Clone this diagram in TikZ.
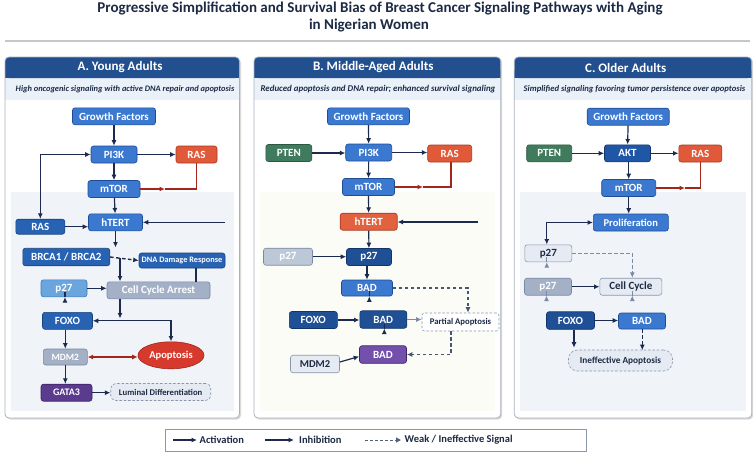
\documentclass[tikz,border=0pt]{standalone}
\usepackage{fontspec}
\setmainfont{Carlito}
\usetikzlibrary{arrows.meta,shapes.geometric,calc}
\definecolor{navy}{HTML}{1B2A4E}
\definecolor{hdr}{HTML}{22508F}
\definecolor{subband}{HTML}{EAF1F9}
\definecolor{framec}{HTML}{A9B2BF}
\definecolor{nblue}{HTML}{3B78CF}
\definecolor{nblueD}{HTML}{1F4D95}
\definecolor{ndark}{HTML}{1F4F94}
\definecolor{ndarkD}{HTML}{13356B}
\definecolor{nakt}{HTML}{1F56A6}
\definecolor{nmid}{HTML}{2762B3}
\definecolor{nmidD}{HTML}{17437F}
\definecolor{nred}{HTML}{E05A3A}
\definecolor{nredD}{HTML}{A8381F}
\definecolor{norange}{HTML}{E2613F}
\definecolor{ngreen}{HTML}{3F7B5C}
\definecolor{ngreenD}{HTML}{2A5840}
\definecolor{nlight}{HTML}{6AA5DD}
\definecolor{nlightD}{HTML}{3E7BBF}
\definecolor{ngray}{HTML}{A4B0C6}
\definecolor{ngrayD}{HTML}{7B88A2}
\definecolor{nlgray}{HTML}{BCC7D8}
\definecolor{npale}{HTML}{E6EBF3}
\definecolor{npaleD}{HTML}{8A96AB}
\definecolor{npurple}{HTML}{5B3B8E}
\definecolor{npurpleD}{HTML}{3D2566}
\definecolor{npurpleB}{HTML}{7350AB}
\definecolor{apored}{HTML}{D63A2C}
\definecolor{aporedD}{HTML}{A0241A}
\definecolor{redline}{HTML}{A3261D}
\definecolor{grayline}{HTML}{7C8AA5}
\definecolor{darktext}{HTML}{1C2A44}
\definecolor{intA}{HTML}{F0F4F9}
\definecolor{intB}{HTML}{FCFCF7}
\newcommand{\mypanel}[3]{%
  \fill[black!15, rounded corners=4pt] (#1+1.5,58.5) rectangle (#2+1.5,419.5);
  \fill[white, rounded corners=4pt] (#1,57) rectangle (#2,418);
  \fill[#3] (#1+6,192) rectangle (#2-6,411);
  \fill[subband] (#1,78) rectangle (#2,100);
  \fill[hdr, rounded corners=4pt] (#1,57) rectangle (#2,78);
  \fill[hdr] (#1,70) rectangle (#2,78);
  \draw[framec, line width=0.8pt, rounded corners=4pt] (#1,57) rectangle (#2,418);
}
\begin{document}
\begin{tikzpicture}[x=1pt,y=-1pt,
  >={Latex[length=5.5pt,width=5pt]},
  nd/.style={draw, rounded corners=2.5pt, line width=0.6pt, inner sep=0pt,
    minimum height=17pt, text=white, font=\bfseries\fontsize{11}{12}\selectfont},
  blueN/.style={nd, fill=nblue, draw=nblueD},
  darkN/.style={nd, fill=ndark, draw=ndarkD},
  midN/.style={nd, fill=nmid, draw=nmidD},
  redN/.style={nd, fill=nred, draw=nredD},
  orangeN/.style={nd, fill=norange, draw=nredD},
  greenN/.style={nd, fill=ngreen, draw=ngreenD},
  lightN/.style={nd, fill=nlight, draw=nlightD},
  grayN/.style={nd, fill=ngray, draw=ngrayD},
  lgrayN/.style={nd, fill=nlgray, draw=ngrayD},
  paleN/.style={nd, fill=npale, draw=npaleD, text=darktext},
  purpleN/.style={nd, fill=npurple, draw=npurpleD},
  purpleBN/.style={nd, fill=npurpleB, draw=npurpleD},
  dashN/.style={nd, dash pattern=on 2.5pt off 1.8pt, fill=npale, draw=npaleD, text=darktext},
  arr/.style={draw=navy, line width=1.2pt, ->},
  rarr/.style={draw=redline, line width=1.2pt, ->},
  garr/.style={draw=grayline, line width=1.2pt, ->},
  dsh/.style={dash pattern=on 3.5pt off 2.5pt},
  hdrtxt/.style={text=white, font=\bfseries\fontsize{13}{14}\selectfont},
  subtxt/.style={text=darktext, font=\bfseries\itshape\fontsize{8.7}{10}\selectfont},
  legtxt/.style={text=darktext, font=\bfseries\fontsize{10.5}{12}\selectfont, anchor=west, inner sep=0pt}
]
\useasboundingbox (0,0) rectangle (756,456);
\fill[white] (0,0) rectangle (756,456);

% title
\node[text=darktext, font=\bfseries\fontsize{15}{17}\selectfont, anchor=base] (t1) at (380,12.5) {Progressive Simplification and Survival Bias of Breast Cancer Signaling Pathways with Aging};
\node[text=darktext, font=\bfseries\fontsize{15}{17}\selectfont, anchor=base] (t2) at (369,29) {in Nigerian Women};
\fill[black!22] (5,40) rectangle (750,41.5);

% panels
\mypanel{5}{239.5}{intA}
\mypanel{254}{500.7}{intB}
\mypanel{514.3}{751.7}{intA}

\node[hdrtxt] (hA) at (120,67.5) {A. Young Adults};
\node[hdrtxt] (hB) at (373.3,67.5) {B. Middle-Aged Adults};
\node[hdrtxt] (hC) at (625.7,67.5) {C. Older Adults};
\node[subtxt, font=\bfseries\itshape\fontsize{8.4}{10}\selectfont] (sA) at (125,89) {High oncogenic signaling with active DNA repair and apoptosis};
\node[subtxt, font=\bfseries\itshape\fontsize{8.9}{10}\selectfont] (sB) at (378,89) {Reduced apoptosis and DNA repair; enhanced survival signaling};
\node[subtxt, font=\bfseries\itshape\fontsize{8.6}{10}\selectfont] (sC) at (634.5,89) {Simplified signaling favoring tumor persistence over apoptosis};

% ---------- Panel A ----------
\node[blueN, minimum width=83pt] (gfA) at (114,116.3) {Growth Factors};
\node[blueN, minimum width=46pt] (pi3kA) at (114,154.5) {PI3K};
\node[redN, minimum width=41pt] (rasA) at (196.5,154.5) {RAS};
\node[blueN, minimum width=52pt] (mtorA) at (114,189) {mTOR};
\node[midN, minimum width=49pt, minimum height=15pt] (rasL) at (40.3,226.7) {RAS};
\node[blueN, minimum width=54pt] (htertA) at (115.5,222.3) {hTERT};
\node[midN, minimum width=87pt, minimum height=17.5pt] (brca) at (66.3,257) {BRCA1 / BRCA2};
\node[midN, minimum width=86pt, minimum height=15pt, font=\bfseries\fontsize{8.3}{9}\selectfont] (ddr) at (182,260.5) {DNA Damage Response};
\node[lightN, minimum width=46pt] (p27A) at (64,288.3) {p27};
\node[grayN, minimum width=103pt] (cca) at (158.5,290.3) {Cell Cycle Arrest};
\node[midN, minimum width=50pt] (foxoA) at (67.5,320.8) {FOXO};
\node[ellipse, draw=aporedD, fill=apored, line width=0.6pt, inner sep=0pt, minimum width=66pt, minimum height=27pt, text=white, font=\bfseries\fontsize{10.5}{12}\selectfont] (apop) at (171,355.3) {Apoptosis};
\node[grayN, minimum width=44pt, minimum height=16pt, font=\bfseries\fontsize{9.5}{11}\selectfont] (mdm2A) at (65.3,357) {MDM2};
\node[purpleN, minimum width=51pt, font=\bfseries\fontsize{10}{11}\selectfont] (gata3) at (66.5,392.7) {GATA3};
\node[dashN, rounded corners=5pt, minimum width=100pt, font=\bfseries\fontsize{8.7}{10}\selectfont] (lum) at (160.7,392) {Luminal Differentiation};

\coordinate (redA) at (165,189);
\coordinate (inA) at (225,222.3);
\coordinate (hA2) at (115.5,247.5);
\coordinate (brA) at (120,258);
\coordinate (ddA) at (196,268);
\coordinate (ccA) at (120,318.5);

\draw[arr] (gfA) -- (pi3kA);
\draw[arr] (pi3kA) -- (rasA);
\draw[arr] (pi3kA) -- (mtorA);
\draw[rarr] (mtorA.east) -- (redA);
\draw[draw=redline, line width=1.2pt] (redA) -| (rasA.south);
\draw[arr, <->] (rasL.north) |- (pi3kA.west);
\draw[arr] (rasL.east) -- (rasL.east -| htertA.west);
\draw[arr] (mtorA) -- (htertA);
\draw[arr] (inA) -- (htertA.east);
\draw[arr] (htertA.south) -- (hA2);
\draw[arr, dsh, line width=1.4pt] (brca.east) -- (ddr.west);
\draw[arr] (brA) -- (brA |- cca.north);
\draw[draw=navy, line width=1.2pt] (ddA) -- (ddA |- cca.north);
\draw[arr] (p27A.east) -- (p27A.east -| cca.west);
\draw[arr] ($(p27A.south)+(1,0)$) -- ($(p27A.south)+(1,0)$ |- foxoA.north);
\draw[arr] (cca.south -| ccA) -- (ccA);
\draw[arr, <->] (foxoA.east) -| (apop.north);
\draw[arr] (foxoA.south -| mdm2A) -- (mdm2A.north);
\draw[rarr, <->] (mdm2A.east) -- (mdm2A.east -| apop.west);
\draw[arr] (mdm2A) -- (mdm2A |- gata3.north);
\draw[arr] (gata3.east) -- (gata3.east -| lum.west);

% ---------- Panel B ----------
\node[blueN, minimum width=82pt] (gfB) at (368.5,116.3) {Growth Factors};
\node[greenN, minimum width=46pt] (ptenB) at (288.8,153) {PTEN};
\node[blueN, minimum width=46pt] (pi3kB) at (368.7,152.5) {PI3K};
\node[redN, minimum width=44pt] (rasB) at (449.7,153.5) {RAS};
\node[blueN, minimum width=52pt] (mtorB) at (368.5,187) {mTOR};
\node[orangeN, minimum width=57pt] (htertB) at (368.7,221.7) {hTERT};
\node[lgrayN, minimum width=49pt] (p27Bl) at (288,256.7) {p27};
\node[darkN, minimum width=45pt] (p27Bd) at (369,257) {p27};
\node[blueN, minimum width=51pt, minimum height=16pt] (bad1) at (367,288) {BAD};
\node[darkN, minimum width=48pt] (foxoB) at (313.3,320) {FOXO};
\node[darkN, minimum width=47pt, minimum height=17.5pt] (bad2) at (383.3,319.5) {BAD};
\node[nd, dash pattern=on 2.5pt off 1.8pt, fill=white, draw=npaleD, text=darktext, minimum width=77pt, minimum height=18pt, font=\bfseries\fontsize{8.7}{10}\selectfont] (partial) at (460.5,322) {Partial Apoptosis};
\node[purpleBN, minimum width=47pt, minimum height=17.5pt] (bad3) at (383,354.5) {BAD};
\node[paleN, minimum width=49pt, minimum height=17.5pt, font=\bfseries\fontsize{10.5}{12}\selectfont] (mdm2B) at (315,364) {MDM2};

\coordinate (redB) at (423,187);
\coordinate (inB) at (478,222);
\coordinate (paB) at (468,300);
\coordinate (pbB) at (451,340);

\draw[arr] (gfB) -- (pi3kB);
\draw[arr] (ptenB.east) -- (ptenB.east -| pi3kB.west);
\draw[arr] (pi3kB.east) -- (pi3kB.east -| rasB.west);
\draw[arr] (pi3kB) -- (mtorB);
\draw[rarr] (mtorB.east) -- (redB);
\draw[draw=redline, line width=1.2pt] (redB) -| ($(rasB.south)+(1.3,0)$);
\draw[arr] (mtorB) -- (htertB);
\draw[arr] (inB) -- (inB -| htertB.east);
\draw[arr] (htertB) -- (p27Bd);
\draw[arr] (p27Bl.east) -- (p27Bl.east -| p27Bd.west);
\draw[arr] (p27Bd.south -| bad1) -- (bad1.north);
\draw[arr, dsh, draw=navy!80] (bad1.east) -| (paB |- partial.north);
\draw[arr] ($(bad1.south)+(2.3,0)$) -- ($(bad1.south)+(2.3,0)$ |- bad2.north);
\draw[arr] (foxoB.east) -- (foxoB.east -| bad2.west);
\draw[garr] (bad2.east) -- (bad2.east -| partial.west);
\draw[arr] ($(bad2.south)+(1,0)$) -- ($(bad2.south)+(1,0)$ |- bad3.north);
\draw[arr] ($(mdm2B.east)+(0,-2)$) -- ($(bad3.west)+(0,2)$);
\draw[arr, dsh, draw=navy!80] (pbB |- partial.south) |- (bad3.east);

% ---------- Panel C ----------
\node[blueN, minimum width=82pt] (gfC) at (628.2,116.7) {Growth Factors};
\node[greenN, minimum width=45pt] (ptenC) at (549.2,153.3) {PTEN};
\node[nd, fill=nakt, draw=ndarkD, minimum width=46pt] (aktC) at (627.5,153.3) {AKT};
\node[redN, minimum width=43pt] (rasC) at (700.3,153.5) {RAS};
\node[blueN, minimum width=54pt] (mtorC) at (628.7,188) {mTOR};
\node[blueN, minimum width=75pt, font=\bfseries\fontsize{10.5}{11}\selectfont] (prolif) at (630.8,222.5) {Proliferation};
\node[paleN, minimum width=47pt] (p27C1) at (548.3,253.3) {p27};
\node[grayN, minimum width=47pt] (p27C2) at (548,286.7) {p27};
\node[paleN, minimum width=62pt] (cellC) at (630.8,286.7) {Cell Cycle};
\node[darkN, minimum width=48pt, minimum height=17.5pt] (foxoC) at (570.5,320.5) {FOXO};
\node[blueN, minimum width=47pt, minimum height=16pt] (badC) at (642,321) {BAD};
\node[dashN, rounded corners=9pt, minimum width=104pt, minimum height=21pt, font=\bfseries\fontsize{9.3}{10}\selectfont] (ineff) at (620.5,360.5) {Ineffective Apoptosis};

\coordinate (redC) at (685,188);
\coordinate (fxC) at (574,340);
\coordinate (bdC) at (642.3,340);

\draw[arr] (gfC) -- (aktC);
\draw[arr] (ptenC.east) -- (ptenC.east -| aktC.west);
\draw[arr] (aktC.east) -- (aktC.east -| rasC.west);
\draw[arr] (aktC.south -| mtorC) -- (mtorC.north);
\draw[rarr] (mtorC.east) -- (redC);
\draw[draw=redline, line width=1.2pt] (redC) -| (rasC.south);
\draw[arr] (mtorC.south) -- (mtorC.south |- prolif.north);
\draw[arr, <->] ($(p27C1.north)+(-1.5,0)$) |- (prolif.west);
\draw[garr, dsh] (p27C1.east) -| ($(cellC.north)+(1.5,0)$);
\draw[garr] ($(p27C1.south)+(-1.5,0)$) -- ($(p27C1.south)+(-1.5,0)$ |- p27C2.north);
\draw[arr] (p27C2.east) -- (p27C2.east -| cellC.west);
\draw[garr] ($(p27C2.south)+(-1.5,0)$) -- ($(p27C2.south)+(-1.5,0)$ |- foxoC.north);
\draw[garr] ($(cellC.south)+(1.5,0)$) -- ($(cellC.south)+(1.5,0)$ |- badC.north);
\draw[arr] (foxoC.east) -- (foxoC.east -| badC.west);
\draw[arr] (foxoC.south -| fxC) -- ($(ineff.north -| fxC)+(0,-2)$);
\draw[arr, dsh] (badC.south -| bdC) -- ($(ineff.north -| bdC)+(0,0.5)$);

% ---------- Legend ----------
\draw[draw=npaleD, fill=white, line width=0.7pt] (165,429) rectangle (586,451.5);
\coordinate (la1) at (173,440);
\coordinate (la2) at (197,440);
\coordinate (lb1) at (265,440);
\coordinate (lb2) at (294,440);
\coordinate (lc1) at (365,440);
\coordinate (lc2) at (401,440);
\draw[arr, line width=1.4pt] (la1) -- (la2);
\node[legtxt] (lt1) at (199.5,440) {Activation};
\draw[arr] (lb1) -- (lb2);
\node[legtxt] (lt2) at (299,440) {Inhibition};
\draw[draw=navy!75, line width=1pt, dash pattern=on 3pt off 2pt, -{Triangle[length=5pt,width=5pt]}] (lc1) -- (lc2);
\node[legtxt] (lt3) at (404.5,440) {Weak / Ineffective Signal};
\end{tikzpicture}
\end{document}
